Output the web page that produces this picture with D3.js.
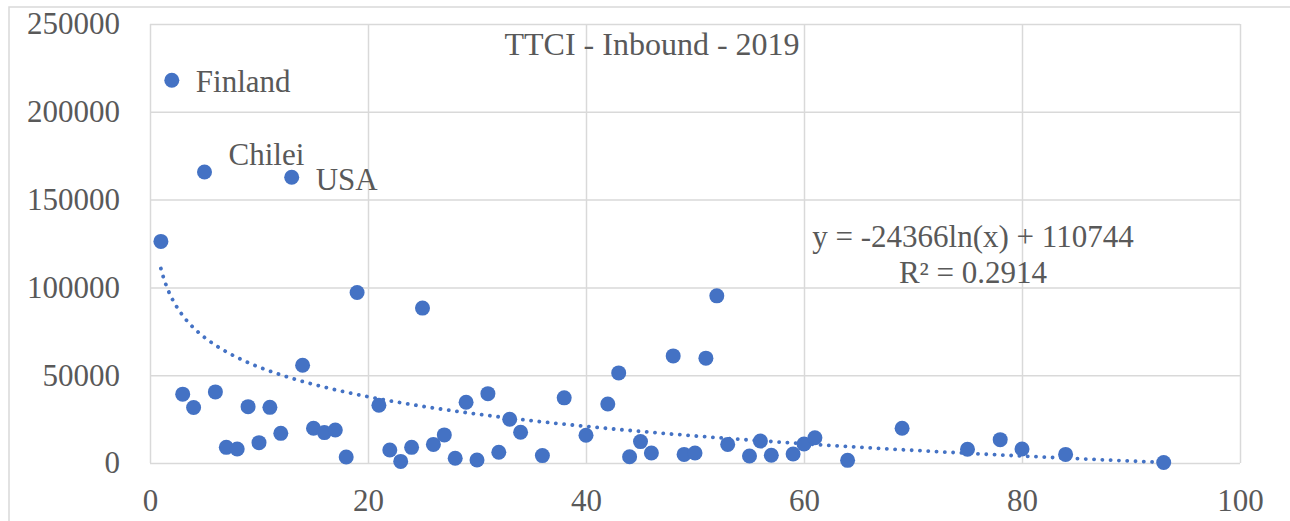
<!DOCTYPE html>
<html>
<head>
<meta charset="utf-8">
<script src="https://cdn.jsdelivr.net/npm/d3@7"></script>
<style>
  html, body { margin: 0; padding: 0; background: #fff; }
  svg { display: block; font-family: "Liberation Serif", "Times New Roman", serif; }
</style>
</head>
<body>
<svg id="chart" width="1290" height="521"></svg>
<script>
'use strict'

// TTCI rank (x) vs inbound value (y)
var ranks = [1, 2, 3, 4, 5, 6, 7, 8, 9, 10, 11, 12, 13, 14, 15, 16, 17, 18, 19,
  21, 22, 23, 24, 25, 26, 27, 28, 29, 30, 31, 32, 33, 34, 36, 38, 40, 42, 43,
  44, 45, 46, 48, 49, 50, 51, 52, 53, 55, 56, 57, 59, 60, 61, 64, 69, 75, 78,
  80, 84, 93];
var inbound = [126200, 218000, 39200, 31600, 165700, 40500, 8900, 8000, 32100,
  11600, 31700, 16900, 162700, 55700, 19800, 17300, 18800, 3400, 97100,
  32900, 7400, 900, 8900, 88200, 10600, 16000, 2700, 34600, 1700, 39500,
  6100, 24900, 17500, 4200, 37100, 15800, 33600, 51300,
  3600, 12200, 5700, 61000, 4900, 5700, 59700, 95200, 10600, 4000, 12500,
  4400, 5100, 10800, 14400, 1500, 19800, 7800, 13300,
  8000, 4900, 300];

var labelled = [{rank: 2, text: "Finland"}, {rank: 5, text: "Chilei"}, {rank: 13, text: "USA"}];

var xTicks = [0, 20, 40, 60, 80, 100];
var yTicks = [0, 50000, 100000, 150000, 200000, 250000];

// trendline coefficients (Excel log fit)
var trendA = -24366, trendB = 110744;
var eqLines = ["y = -24366ln(x) + 110744", "R\u00b2 = 0.2914"];

var width = 1290,
    height = 521,
    margin = {left: 150, right: 50, top: 24, bottom: 58},
    blue = "#4472C4",
    grid = "#D9D9D9",
    textCol = "#595959";

var svg = d3.select("#chart");

// chart area border
svg.append("rect")
    .attr("x", 9).attr("y", 7)
    .attr("width", 1300).attr("height", 530)
    .attr("fill", "none")
    .attr("stroke", grid)
    .attr("stroke-width", 1.5);

var x = d3.scaleLinear().domain([0, 100]).range([margin.left, width - margin.right]);
var y = d3.scaleLinear().domain([0, 250000]).range([height - margin.bottom, margin.top]);

// gridlines
svg.append("g")
    .attr("transform", "translate(0," + (height - margin.bottom) + ")")
    .call(d3.axisBottom(x).tickValues(xTicks).tickSize(-(height - margin.bottom - margin.top)).tickFormat(""))
    .call(g => g.select(".domain").remove())
    .call(g => g.selectAll("line").attr("stroke", grid).attr("stroke-width", 1.5));

svg.append("g")
    .attr("transform", "translate(" + margin.left + ",0)")
    .call(d3.axisLeft(y).tickValues(yTicks).tickSize(-(width - margin.left - margin.right)).tickFormat(""))
    .call(g => g.select(".domain").remove())
    .call(g => g.selectAll("line").attr("stroke", grid).attr("stroke-width", 1.5));

// tick labels
svg.append("g")
    .attr("transform", "translate(0," + (height - margin.bottom) + ")")
    .call(d3.axisBottom(x).tickValues(xTicks).tickSize(0).tickPadding(26).tickFormat(d3.format("d")))
    .call(g => g.select(".domain").remove())
    .call(g => g.selectAll("text").attr("fill", textCol).style("font-size", "31px").style("font-family", "Liberation Serif"));

svg.append("g")
    .attr("transform", "translate(" + margin.left + ",0)")
    .call(d3.axisLeft(y).tickValues(yTicks).tickSize(0).tickPadding(30).tickFormat(d3.format("d")))
    .call(g => g.select(".domain").remove())
    .call(g => g.selectAll("text").attr("fill", textCol).style("font-size", "31px").style("font-family", "Liberation Serif"));

// trendline
var trend = d3.range(1, 93.01, 0.25).map(function(r) { return [r, trendA * Math.log(r) + trendB]; });
svg.append("path")
    .datum(trend)
    .attr("d", d3.line().x(function(d) { return x(d[0]); }).y(function(d) { return y(d[1]); }))
    .attr("fill", "none")
    .attr("stroke", blue)
    .attr("stroke-width", 3.8)
    .attr("stroke-linecap", "round")
    .attr("stroke-dasharray", "0.1 8.2");

// points
svg.append("g").selectAll("circle")
    .data(ranks)
    .enter().append("circle")
      .attr("cx", function(d) { return x(d); })
      .attr("cy", function(d, i) { return y(inbound[i]); })
      .attr("r", 7.5)
      .attr("fill", blue);

// point labels
var labelOffsets = {2: [24, 12], 5: [24, -7], 13: [24, 13]};
svg.append("g").selectAll("text")
    .data(labelled)
    .enter().append("text")
      .attr("x", function(d) { return x(d.rank) + labelOffsets[d.rank][0]; })
      .attr("y", function(d) { return y(inbound[ranks.indexOf(d.rank)]) + labelOffsets[d.rank][1]; })
      .attr("fill", textCol)
      .style("font-size", "31px")
      .text(function(d) { return d.text; });

// title
svg.append("text")
    .attr("x", 652).attr("y", 55)
    .attr("text-anchor", "middle")
    .attr("fill", textCol)
    .style("font-size", "32px")
    .text("TTCI - Inbound - 2019");

// equation
svg.append("g").selectAll("text")
    .data(eqLines)
    .enter().append("text")
      .attr("x", 973)
      .attr("y", function(d, i) { return 247 + i * 36; })
      .attr("text-anchor", "middle")
      .attr("fill", textCol)
      .style("font-size", "31px")
      .text(function(d) { return d; });
</script>
</body>
</html>
